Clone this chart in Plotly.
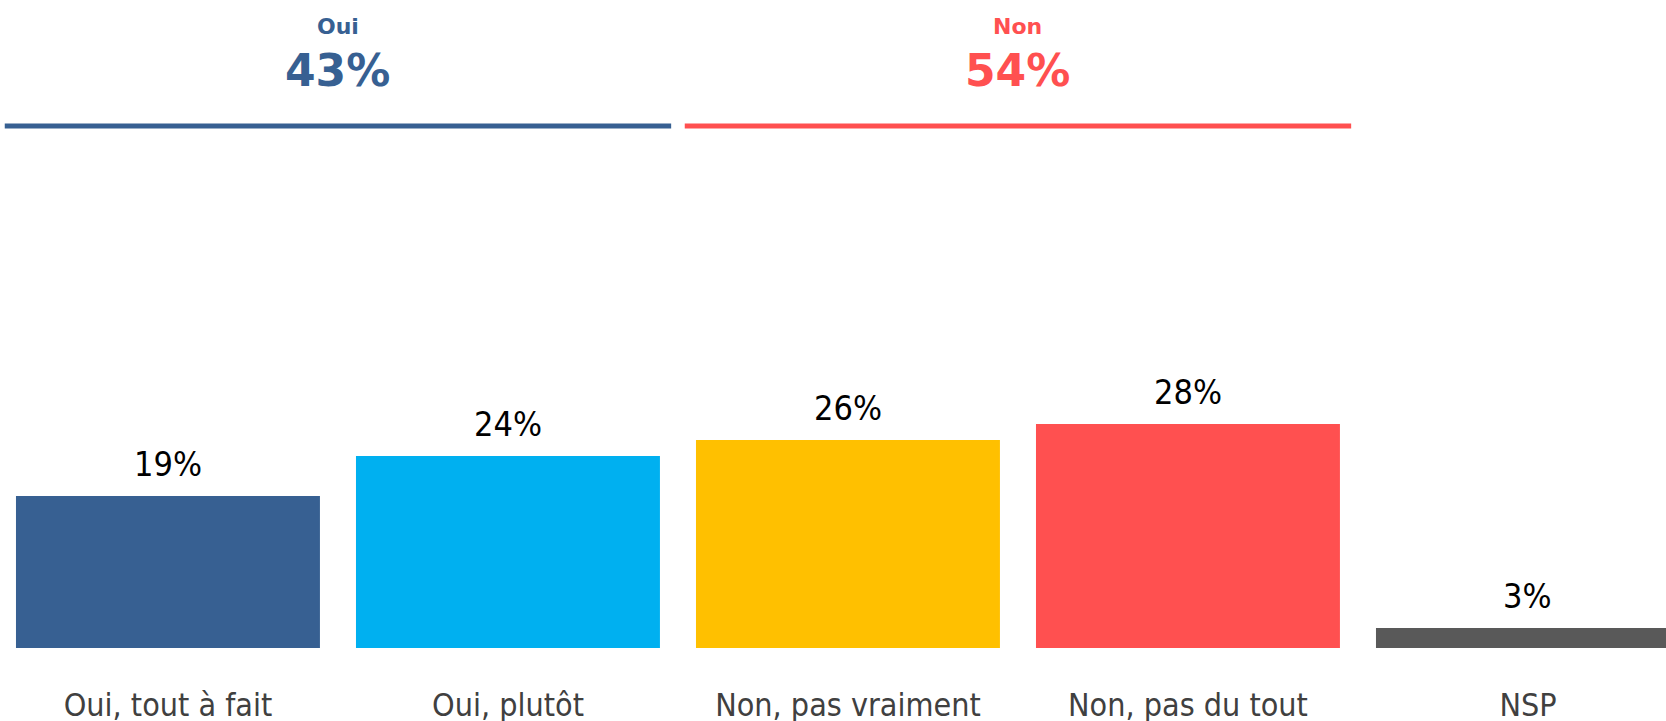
import plotly.graph_objects as go

categories = ["Oui, tout à fait", "Oui, plutôt", "Non, pas vraiment", "Non, pas du tout", "NSP"]
values = [19, 24, 26, 28, 2.5]
labels = ["19%", "24%", "26%", "28%", "3%"]
colors = ["#376092", "#00B0F0", "#FFC000", "#FF5050", "#595959"]

group_names = ["Oui", "Non"]
group_totals = ["43%", "54%"]
group_colors = ["#376092", "#FF5050"]
group_spans = [(0, 1), (2, 3)]

FONT_C = "'DejaVu Sans Condensed', 'DejaVu Sans', sans-serif"
FONT_B = "'DejaVu Sans', sans-serif"

PLOT_H = 721 - 73

fig = go.Figure()
fig.add_trace(go.Bar(
    x=list(range(len(categories))),
    y=values,
    marker=dict(color=colors, line=dict(width=0)),
    hoverinfo="skip",
))

for i, (v, t) in enumerate(zip(values, labels)):
    fig.add_annotation(x=i, y=v, xref="x", yref="y", text=t, showarrow=False,
                       yanchor="bottom", yshift=10,
                       font=dict(family=FONT_C, size=34, color="#000000"))

for (a, b), name, tot, col in zip(group_spans, group_names, group_totals, group_colors):
    mid = (a + b) / 2
    fig.add_shape(type="line", xref="x", yref="paper", x0=a - 0.48, x1=b + 0.48,
                  y0=1 - 126 / PLOT_H, y1=1 - 126 / PLOT_H,
                  line=dict(color=col, width=5))
    fig.add_annotation(x=mid, xref="x", y=1 - 27 / PLOT_H, yref="paper", yanchor="middle",
                       text="<b>" + name + "</b>",
                       showarrow=False, font=dict(family=FONT_B, size=22, color=col))
    fig.add_annotation(x=mid, xref="x", y=1 - 70 / PLOT_H, yref="paper", yanchor="middle",
                       text="<b>" + tot + "</b>",
                       showarrow=False, font=dict(family=FONT_B, size=44, color=col))

fig.update_layout(
    width=1666, height=721,
    margin=dict(l=0, r=0, t=0, b=721 - PLOT_H, autoexpand=False),
    plot_bgcolor="white", paper_bgcolor="white",
    showlegend=False,
    bargap=0.106,
    xaxis=dict(range=[-0.494, 4.406], tickmode="array",
               tickvals=list(range(len(categories))),
               ticktext=categories, showgrid=False, zeroline=False, showline=False,
               ticks="", ticklabelstandoff=35, automargin=False,
               tickfont=dict(family=FONT_C, size=32, color="#404040")),
    yaxis=dict(range=[0, PLOT_H / 8.0], visible=False),
)

fig.write_html("out.html", config={"displayModeBar": False},
               post_script="document.body.style.margin='0';document.body.style.overflow='hidden';")
